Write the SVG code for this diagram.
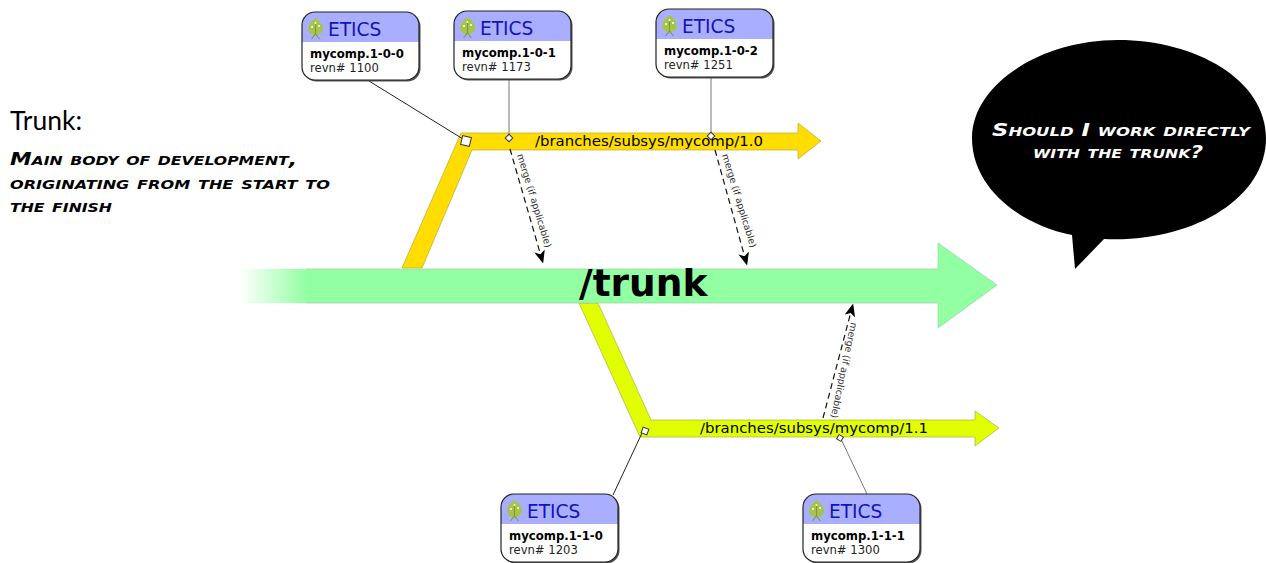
<svg xmlns="http://www.w3.org/2000/svg" width="1266" height="563" viewBox="0 0 1266 563">
<style>
.s{font-family:"DejaVu Sans",sans-serif}
.et{font-size:18.6px;fill:#1414b4}
.nm{font-size:11.7px;font-weight:bold;fill:#000}
.rv{font-size:11.6px;fill:#222}
.br{font-size:14.9px;fill:#000}
.mg{font-size:9.4px;fill:#333}
.hand{font-family:"DejaVu Sans",sans-serif;font-style:italic;font-weight:bold;font-variant:small-caps;font-size:18px}
.ln{stroke:#222;stroke-width:1;fill:none}
.lg{stroke:#777;stroke-width:1;fill:none}
.dash{stroke:#111;stroke-width:1.2;stroke-dasharray:6 4;fill:none}
.anchor{fill:#fff;stroke:#333;stroke-width:1}
</style>
<defs>
<linearGradient id="fade" x1="240" x2="306" y1="0" y2="0" gradientUnits="userSpaceOnUse">
<stop offset="0" stop-color="#93ffa3" stop-opacity="0"/><stop offset="1" stop-color="#93ffa3"/>
</linearGradient>
<marker id="ah" viewBox="0 0 12 10" refX="11.5" refY="5" markerWidth="13" markerHeight="11" markerUnits="userSpaceOnUse" orient="auto">
<path d="M0 0L12 5L0 10L3 5Z" fill="#000"/>
</marker>
<clipPath id="cc"><rect width="117" height="68" rx="13"/></clipPath>
<g id="card">
<rect x="1.5" y="1.5" width="117" height="68" rx="13" fill="#555"/>
<rect width="117" height="68" rx="13" fill="#fff"/>
<rect width="117" height="30" fill="#a9aeff" clip-path="url(#cc)"/>
<rect width="117" height="68" rx="13" fill="none" stroke="#222" stroke-width="1.2"/>
<path d="M13.5 6C9 9 6 13 6 17C6 20.500 9 23 13.500 23C18 23 21 20.500 21 17C21 13 18 9 13.500 6Z" fill="#a5c44c"/>
<path d="M13.500 12V23M9.500 27L13.500 22L17.500 27" stroke="#7f9a3a" stroke-width="1.100" fill="none"/>
<circle cx="10" cy="15" r="1" fill="#fff"/><circle cx="17" cy="14" r="1" fill="#fff"/><circle cx="13.500" cy="11" r="1" fill="#fff"/>
</g>
</defs>

<g id="branch-1-0">
<path d="M402 268L461 133H798V123L821 141L798 159V150H472L422 268Z" fill="#ffdd00" stroke="#b5a93c" stroke-width="0.7"/>
<text class="s br" x="535" y="146">/branches/subsys/mycomp/1.0</text>
</g>
<g id="branch-1-1">
<path d="M579 303L640 437H975V446L999 428L975 411V420H651L598 303Z" fill="#e1ff00" stroke="#a7b04a" stroke-width="0.7"/>
<text class="s br" x="700" y="433">/branches/subsys/mycomp/1.1</text>
</g>
<g id="trunk">
<path d="M240 269H938V243L997 285L938 328V303H240Z" fill="url(#fade)"/>
<path d="M306 269H938V243L997 285L938 328V303H306" fill="none" stroke="#9fcba6" stroke-width="0.7"/>
<text class="s" x="579" y="296" font-size="37.500" font-weight="bold" fill="#000">/trunk</text>
</g>

<g id="connectors">
<path class="ln" d="M369 81L463 139"/>
<path class="lg" d="M509 79V136"/>
<path class="lg" d="M711 77V134"/>
<path class="ln" d="M613 495L642 433"/>
<path class="lg" d="M867 494L841 439"/>
<path class="dash" d="M510 149L543 263" marker-end="url(#ah)"/>
<path class="dash" d="M715 150L747 265" marker-end="url(#ah)"/>
<path class="dash" d="M823 418L853 304" marker-end="url(#ah)"/>
<text class="s mg" transform="translate(517 155) rotate(73)">merge (if applicable)</text>
<text class="s mg" transform="translate(722 155) rotate(73)">merge (if applicable)</text>
<text class="s mg" transform="translate(851 322) rotate(102)">merge (if applicable)</text>
<rect class="anchor" x="-4.500" y="-4.500" width="9" height="9" transform="translate(466 141) rotate(14)" stroke-width="1.300"/>
<rect class="anchor" x="-2.700" y="-2.700" width="5.400" height="5.400" transform="translate(509 138) rotate(45)"/>
<rect class="anchor" x="-2.700" y="-2.700" width="5.400" height="5.400" transform="translate(711 136) rotate(45)"/>
<rect class="anchor" x="-3" y="-3" width="6" height="6" transform="translate(645 431) rotate(20)"/>
<rect class="anchor" x="-2.500" y="-2.500" width="5" height="5" transform="translate(840 438) rotate(30)"/>
</g>

<g id="node-1-0-0" transform="translate(302 12)">
<use href="#card"/>
<text class="s et" x="26" y="24">ETICS</text>
<text class="s nm" x="8" y="46">mycomp.1-0-0</text>
<text class="s rv" x="8" y="60">revn# 1100</text>
</g>
<g id="node-1-0-1" transform="translate(454 11)">
<use href="#card"/>
<text class="s et" x="26" y="24">ETICS</text>
<text class="s nm" x="8" y="46">mycomp.1-0-1</text>
<text class="s rv" x="8" y="60">revn# 1173</text>
</g>
<g id="node-1-0-2" transform="translate(656 9)">
<use href="#card"/>
<text class="s et" x="26" y="24">ETICS</text>
<text class="s nm" x="8" y="46">mycomp.1-0-2</text>
<text class="s rv" x="8" y="60">revn# 1251</text>
</g>
<g id="node-1-1-0" transform="translate(501 494)">
<use href="#card"/>
<text class="s et" x="26" y="24">ETICS</text>
<text class="s nm" x="8" y="46">mycomp.1-1-0</text>
<text class="s rv" x="8" y="60">revn# 1203</text>
</g>
<g id="node-1-1-1" transform="translate(803 494)">
<use href="#card"/>
<text class="s et" x="26" y="24">ETICS</text>
<text class="s nm" x="8" y="46">mycomp.1-1-1</text>
<text class="s rv" x="8" y="60">revn# 1300</text>
</g>

<g id="trunk-note">
<text x="10" y="130" font-family="Lato,sans-serif" font-size="26.500" fill="#000">Trunk:</text>
<text class="hand" x="10" y="165" textLength="287" lengthAdjust="spacingAndGlyphs" fill="#000">Main body of development,</text>
<text class="hand" x="10" y="189" textLength="320" lengthAdjust="spacingAndGlyphs" fill="#000">originating from the start to</text>
<text class="hand" x="10" y="212" textLength="102" lengthAdjust="spacingAndGlyphs" fill="#000">the finish</text>
</g>

<g id="bubble">
<path d="M1072 235L1075 269L1104 239C1190 243 1266 200 1266 138C1266 80 1196 40 1118 40C1040 40 972 85 972 138C972 185 1015 223 1072 235Z" fill="#000"/>
<text class="hand" x="992" y="136" textLength="258" lengthAdjust="spacingAndGlyphs" fill="#fff">Should I work directly</text>
<text class="hand" x="1033" y="158" textLength="170" lengthAdjust="spacingAndGlyphs" fill="#fff">with the trunk?</text>
</g>
</svg>
